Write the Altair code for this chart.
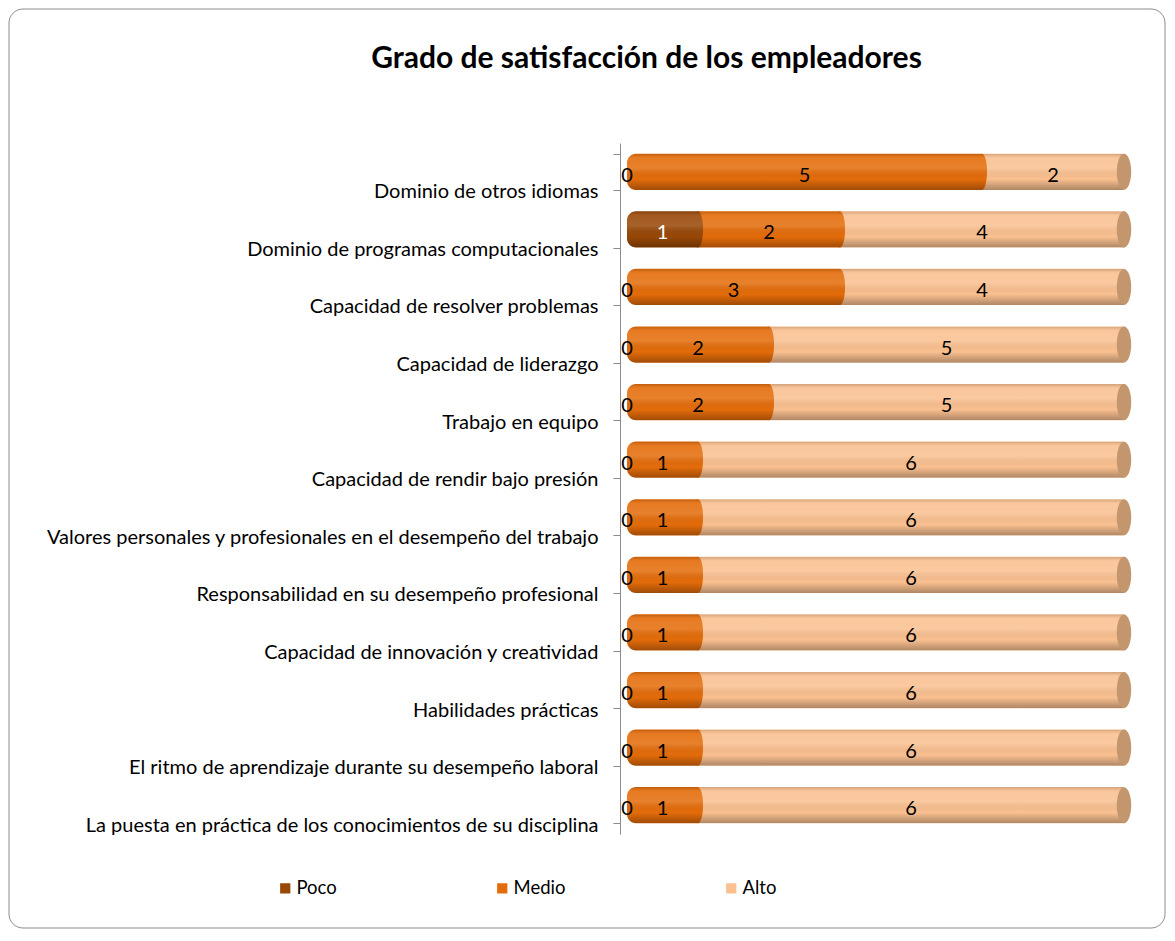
import altair as alt
import pandas as pd

categories = [
    "Dominio de otros idiomas",
    "Dominio de programas computacionales",
    "Capacidad de resolver problemas",
    "Capacidad de liderazgo",
    "Trabajo en equipo",
    "Capacidad de rendir bajo presión",
    "Valores personales y profesionales en el desempeño del trabajo",
    "Responsabilidad en su desempeño profesional",
    "Capacidad de innovación y creatividad",
    "Habilidades prácticas",
    "El ritmo de aprendizaje durante su desempeño laboral",
    "La puesta en práctica de los conocimientos de su disciplina",
]
series = ["Poco", "Medio", "Alto"]
poco = [0, 1, 0, 0, 0, 0, 0, 0, 0, 0, 0, 0]
medio = [5, 2, 3, 2, 2, 1, 1, 1, 1, 1, 1, 1]
alto = [2, 4, 4, 5, 5, 6, 6, 6, 6, 6, 6, 6]
colors = ["#984807", "#E46C0A", "#FAC090"]

rows = []
for i, c in enumerate(categories):
    for k, (s, vals) in enumerate(zip(series, [poco, medio, alto])):
        rows.append({"cat": c, "series": s, "order": k, "value": vals[i]})
df = pd.DataFrame(rows)
tot = pd.DataFrame({"cat": categories,
                    "total": [a + b + c for a, b, c in zip(poco, medio, alto)]})

FONT = "Lato"
W, H = 497, 691

ysort = alt.Y("cat:N", sort=categories)
yenc = alt.Y("cat:N", sort=categories, title=None,
             scale=alt.Scale(paddingInner=0.37, paddingOuter=0.185),
             axis=alt.Axis(labelFont=FONT, labelFontSize=20, labelColor="#000000",
                           labelOffset=20, labelPadding=15, labelLimit=700,
                           domainColor="#8C8C8C", tickColor="#8C8C8C", tickSize=7,
                           tickBand="extent", offset=7, grid=False))
xscale = alt.Scale(domain=[0, 7], nice=False, zero=True)
cscale = alt.Scale(domain=series, range=colors)

stacked = alt.Chart(df).transform_stack(
    stack="value", groupby=["cat"], as_=["x0", "x1"],
    sort=[alt.SortField("order", order="ascending")]
).transform_joinaggregate(
    total="sum(value)", groupby=["cat"]
).transform_calculate(mid="(datum.x0 + datum.x1) / 2")

legend = alt.Legend(title=None, orient="none", legendX=-351, legendY=736,
                    direction="horizontal", symbolType="square",
                    symbolSize=105, symbolStrokeWidth=0,
                    labelFont=FONT, labelFontSize=18.5, labelColor="#000000",
                    labelOffset=2, columnPadding=156, padding=0)

first_seg = stacked.transform_filter("datum.x0 == 0 && datum.value > 0").mark_bar(
    cornerRadiusTopLeft=9, cornerRadiusBottomLeft=9).encode(
    y=yenc,
    x=alt.X("x0:Q", scale=xscale, axis=None),
    x2="x1:Q",
    color=alt.Color("series:N", sort=series, scale=cscale, legend=legend),
)
other_seg = stacked.transform_filter("datum.x0 > 0 && datum.value > 0").mark_bar().encode(
    y=ysort,
    x=alt.X("x0:Q", scale=xscale),
    x2="x1:Q",
    color=alt.Color("series:N", sort=series, scale=cscale, legend=legend),
)

seg_path = "M0,-1A0.28,1,0,1,1,0,1A0.28,1,0,1,1,0,-1Z"
seg_ends = stacked.transform_filter("datum.value > 0 && datum.x1 < datum.total").mark_point(
    shape=seg_path, filled=True, opacity=1, size=1300, strokeWidth=0).encode(
    y=ysort,
    x=alt.X("x1:Q", scale=xscale),
    color=alt.Color("series:N", sort=series, scale=cscale, legend=None),
)

shade = alt.LinearGradient(
    gradient="linear", x1=0, y1=0, x2=0, y2=1,
    stops=[
        alt.GradientStop(color="rgba(0,0,0,0.16)", offset=0),
        alt.GradientStop(color="rgba(255,255,255,0.10)", offset=0.12),
        alt.GradientStop(color="rgba(255,255,255,0.14)", offset=0.4),
        alt.GradientStop(color="rgba(0,0,0,0.0)", offset=0.7),
        alt.GradientStop(color="rgba(0,0,0,0.30)", offset=1),
    ],
)
overlay = alt.Chart(tot).mark_bar(fill=shade, cornerRadiusTopLeft=9,
                                  cornerRadiusBottomLeft=9).encode(
    y=ysort,
    x=alt.X("total:Q", scale=xscale),
)

cap_path = "M0,-1A0.4,1,0,1,1,0,1A0.4,1,0,1,1,0,-1Z"
caps = alt.Chart(tot).mark_point(shape=cap_path, filled=True, fill="#C3966E",
                                 opacity=1, size=1300, strokeWidth=0).encode(
    y=ysort,
    x=alt.X("total:Q", scale=xscale),
)

labels = stacked.mark_text(font=FONT, fontSize=20, baseline="middle", dy=4).encode(
    y=ysort,
    x=alt.X("mid:Q", scale=xscale),
    text="value:Q",
    color=alt.condition("datum.series == 'Poco' && datum.value > 0",
                        alt.value("#FFFFFF"), alt.value("#000000")),
)

frame_df = pd.DataFrame({"k": [0]})
frame = alt.Chart(frame_df).mark_rect(filled=False, stroke="#8C8C8C", strokeWidth=1,
                                      cornerRadius=14).encode(
    x=alt.value(-618), x2=alt.value(538), y=alt.value(-134), y2=alt.value(785)
)

chart = alt.layer(frame, first_seg, other_seg, seg_ends, overlay, caps, labels).properties(
    width=W, height=H,
    title=alt.TitleParams("Grado de satisfacción de los empleadores", font=FONT,
                          fontSize=30, fontWeight="bold", color="#000000",
                          anchor="middle", frame="group", dx=-229, dy=95,
                          baseline="bottom", offset=0),
    padding={"left": 619, "top": 135, "right": 43, "bottom": 96},
    autosize=alt.AutoSizeParams(type="none"),
).configure_view(stroke=None)

chart.save("out.html", embed_options={"renderer": "svg", "actions": False})
